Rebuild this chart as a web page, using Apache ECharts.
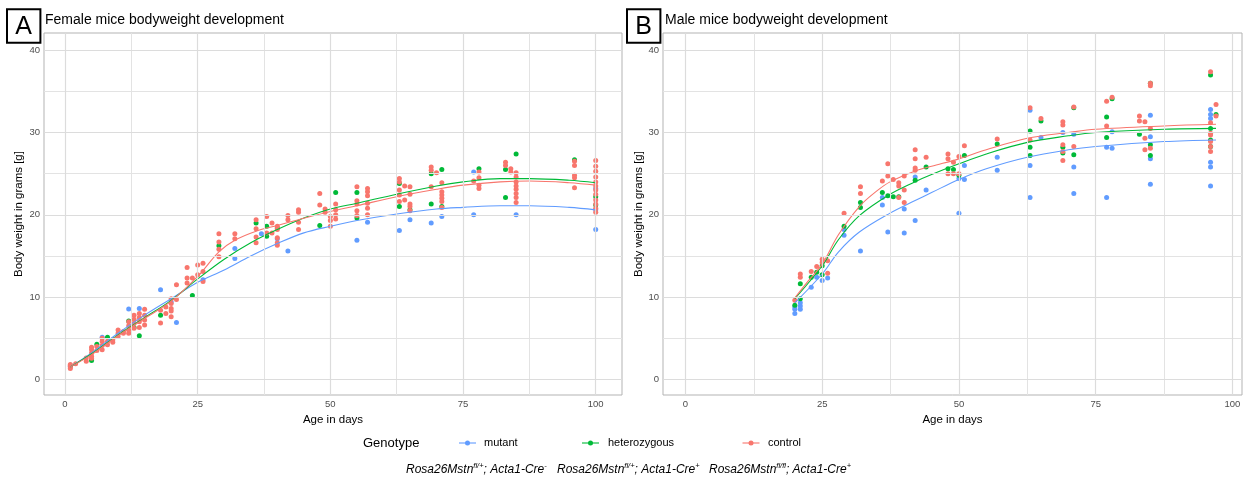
<!DOCTYPE html>
<html>
<head>
<meta charset="utf-8">
<script src="https://cdn.jsdelivr.net/npm/echarts@6/dist/echarts.min.js"></script>
<style>
  html, body { margin: 0; padding: 0; background: #ffffff; }
  #chart { width: 1246px; height: 477px; }
</style>
</head>
<body>
<div id="chart"></div>
<script>
// Genotype groups, colours and their allele annotations
const genotypes = ['mutant', 'heterozygous', 'control'];
const genotypeColors = ['#619CFF', '#00BA38', '#F8766D'];
const alleleLabels = [
  ['fl/+', '-'],
  ['fl/+', '+'],
  ['fl/fl', '+']
];

// Axis ticks
const xTicks = [0, 25, 50, 75, 100];
const xMinorTicks = [12.5, 37.5, 62.5, 87.5];
const yTicks = [0, 10, 20, 30, 40];
const yMinorTicks = [5, 15, 25, 35];

// Female body weights: [day, [weights in g]]
const femaleMutant = [
  [1, [1.6]], [7, [5.1]], [12, [8.55]], [14, [8.6]], [18, [10.9]], [20, [9.4]], [21, [6.9]],
  [26, [12.1]], [32, [14.7, 15.9]], [37, [17.7]], [40, [17.1]], [42, [15.6]], [55, [16.9]],
  [57, [19.1]], [63, [18.1]], [65, [19.4]], [69, [19.0]], [71, [19.8]], [77, [20.0, 25.2]],
  [85, [20.0]], [100, [18.2, 20.6, 23.2]]
];
const femaleHet = [
  [5, [2.27]], [6, [4.25]], [8, [5.1]], [12, [7.1]], [13, [6.3]], [14, [5.3]], [18, [7.8]],
  [24, [10.2]], [29, [16.25]], [36, [19.0]], [38, [17.4, 18.6]], [40, [18.4]], [48, [18.7]],
  [51, [22.7]], [55, [19.6, 22.7]], [63, [21.0, 23.8]], [65, [20.6]], [69, [21.3, 25.0]],
  [71, [21.0, 25.5]], [78, [25.6]], [83, [22.1, 25.5]], [85, [27.4]], [96, [26.7]],
  [100, [21.2, 22.2]]
];
const femaleControl = [
  [1, [1.3, 1.5, 1.7, 1.8]], [2, [1.9]], [4, [2.2, 2.6]], [5, [2.55, 2.8, 3.2, 3.6, 3.9]],
  [6, [3.5, 4.0]], [7, [3.6, 4.1, 4.6, 5.0]], [8, [4.2, 4.6]], [9, [4.5, 4.8]],
  [10, [5.2, 5.6, 6.0]], [11, [5.6, 5.8]], [12, [5.6, 6.0, 6.5, 7.0]], [13, [6.2, 6.8, 7.3, 7.8]],
  [14, [6.3, 7.0, 7.5, 8.0]], [15, [6.6, 7.2, 7.8, 8.5]], [18, [6.85, 8.4]], [19, [8.0, 8.8]],
  [20, [7.6, 8.3, 8.6, 9.2, 9.8]], [21, [9.7, 11.5]], [23, [11.7, 12.3, 13.6]], [24, [12.3]],
  [25, [12.7, 13.9]], [26, [11.9, 13.1, 14.1]], [29, [14.9, 15.8, 16.7, 17.7]], [32, [17.1, 17.7]],
  [36, [16.6, 17.3, 18.3, 19.4]], [38, [17.8, 19.8]], [39, [17.8, 19.0]],
  [40, [16.3, 16.6, 17.2, 18.2, 18.6]], [42, [19.4, 19.9]], [44, [18.2, 19.1, 20.3, 20.6]],
  [48, [21.2, 22.6]], [49, [20.3, 20.7]], [50, [18.6, 19.3, 19.8]], [51, [19.5, 20.0, 20.6, 21.3]],
  [55, [19.9, 20.5, 21.3, 21.7, 23.4]], [57, [20.0, 20.8, 21.4, 22.3, 22.8, 23.2]],
  [63, [21.6, 22.4, 23.0, 24.0, 24.4]], [64, [21.8, 23.5]], [65, [20.5, 21.0, 21.3, 22.5, 23.4]],
  [69, [23.4, 25.4, 25.8]], [70, [25.1]], [71, [20.9, 21.6, 22.0, 22.4, 22.8, 23.9]], [77, [24.1]],
  [78, [23.2, 23.6, 24.5, 25.2]], [83, [26.0, 26.4]], [84, [25.2, 25.6]],
  [85, [21.5, 22.1, 22.6, 23.1, 23.5, 24.0, 24.6, 25.1]], [96, [23.3, 24.5, 24.8, 26.0, 26.5]],
  [100, [20.3, 20.8, 21.3, 21.8, 22.5, 23.0, 23.5, 24.0, 24.6, 25.3, 25.9, 26.6]]
];

// Male body weights: [day, [weights in g]]
const maleMutant = [
  [20, [8.0, 8.5, 8.8]], [21, [8.5, 8.9, 9.3]], [23, [11.2]], [24, [12.4]], [25, [12.0]],
  [26, [12.3]], [29, [17.5, 18.2]], [32, [15.6]], [36, [21.2, 22.1]], [37, [17.9]],
  [40, [17.8, 20.7]], [42, [19.3, 24.6]], [44, [23.0]], [50, [20.2, 24.4]], [51, [24.3, 26.0]],
  [57, [25.4, 27.0]], [63, [22.1, 26.0, 32.7]], [65, [29.4]], [69, [30.0]], [71, [22.6, 25.8, 29.8]],
  [77, [22.1, 28.2]], [78, [28.1, 30.1]], [85, [23.7, 26.8, 29.5, 32.1]],
  [96, [23.5, 25.8, 26.4, 31.7, 32.2, 32.8]]
];
const maleHet = [
  [20, [9.0]], [21, [9.8, 11.6]], [23, [12.4]], [24, [13.0]], [25, [12.7, 13.8]], [29, [18.6]],
  [32, [20.9, 21.5]], [36, [22.7]], [37, [22.3]], [38, [22.2]], [39, [22.2]], [42, [24.2]],
  [44, [25.8]], [48, [25.6]], [49, [25.5]], [50, [24.8]], [51, [27.2]], [57, [28.6]],
  [63, [27.2, 28.2, 30.2]], [65, [31.4]], [69, [27.5, 28.2]], [71, [27.3, 33.0]], [77, [29.4, 31.9]],
  [78, [34.1]], [83, [29.8]], [85, [27.2, 28.5, 36.0]], [96, [28.3, 29.1, 30.5, 37.0]], [97, [32.2]]
];
const maleControl = [
  [20, [9.6]], [21, [12.4, 12.8]], [23, [13.1]], [24, [13.7]], [25, [14.2, 14.6]], [26, [12.9, 14.4]],
  [29, [20.2]], [32, [22.6, 23.4]], [36, [24.1]], [37, [24.7, 26.2]], [38, [24.3]],
  [39, [22.1, 23.5, 23.9]], [40, [21.5, 23.0, 24.7]], [42, [25.4, 25.7, 26.8, 27.9]], [44, [27.0]],
  [48, [25.0, 26.8, 27.4]], [49, [25.0, 26.4]], [50, [25.0, 27.1]], [51, [28.4]], [57, [29.2]],
  [63, [29.1, 33.0]], [65, [31.7]], [69, [26.6, 27.7, 28.5, 30.9, 31.3]], [71, [28.3, 33.1]],
  [77, [30.8, 33.8]], [78, [34.3]], [83, [31.4, 32.0]], [84, [27.9, 29.3, 31.3]],
  [85, [28.1, 30.5, 35.7, 36.0]], [96, [27.7, 28.3, 28.9, 29.7, 29.9, 31.2, 37.4]], [97, [32.0, 33.4]]
];

// Smoothed growth curves: [day, weight]
const femaleMutantFit = [
  [1, 1.5], [5, 3.2], [10, 5.6], [15, 7.8], [20, 9.8], [25, 11.8], [30, 13.3], [35, 15.0],
  [40, 16.5], [45, 17.8], [50, 18.6], [55, 19.3], [62.5, 20.1], [70, 20.7], [75, 20.9],
  [82, 21.1], [87.5, 21.1], [95, 20.9], [100, 20.6]
];
const femaleHetFit = [
  [1, 1.5], [5, 3.1], [10, 5.4], [15, 7.5], [20, 9.6], [25, 12.2], [30, 14.6], [35, 16.6],
  [40, 18.2], [45, 19.6], [50, 20.7], [55, 21.4], [62.5, 22.5], [70, 23.5], [75, 24.0],
  [82, 24.4], [87.5, 24.4], [95, 24.2], [100, 23.9]
];
const femaleControlFit = [
  [1, 1.5], [5, 3.0], [10, 5.3], [15, 7.4], [20, 9.5], [25, 12.5], [29, 15.5], [32, 16.9],
  [36, 18.0], [40, 18.7], [44, 19.4], [50, 20.4], [55, 21.1], [62.5, 22.2], [70, 23.1],
  [75, 23.6], [82, 24.0], [87.5, 24.1], [95, 23.9], [100, 23.6]
];
const maleMutantFit = [
  [20, 9.3], [25, 12.8], [28, 15.5], [31.8, 17.9], [37.4, 20.2], [41.9, 21.7], [45, 22.7],
  [50, 24.3], [55, 25.6], [62.5, 27.0], [70, 27.9], [75, 28.3], [87.5, 28.9], [97, 29.1]
];
const maleHetFit = [
  [20, 9.8], [25, 13.8], [28, 17.0], [31.8, 19.9], [37.4, 22.5], [41.9, 24.0], [45, 24.9],
  [50, 26.2], [55, 27.4], [62.5, 28.8], [70, 29.6], [75, 30.0], [87.5, 30.4], [97, 30.5]
];
const maleControlFit = [
  [20, 9.9], [22.5, 12.0], [25, 14.0], [28, 17.6], [31.8, 21.0], [35, 22.9], [37.4, 24.0],
  [41.9, 25.3], [45, 25.9], [50, 26.8], [55, 27.9], [62.5, 29.3], [70, 30.0], [75, 30.4],
  [87.5, 30.8], [97, 31.0]
];

const panels = [
  {
    tag: 'A', title: 'Female mice bodyweight development',
    points: [femaleMutant, femaleHet, femaleControl],
    fits: [femaleMutantFit, femaleHetFit, femaleControlFit],
    xMin: -3.96, xMax: 104.95
  },
  {
    tag: 'B', title: 'Male mice bodyweight development',
    points: [maleMutant, maleHet, maleControl],
    fits: [maleMutantFit, maleHetFit, maleControlFit],
    xMin: -4.1, xMax: 101.75
  }
];

const FONT = '"Liberation Sans", Arial, Helvetica, sans-serif';
const gridBoxes = [
  { left: 44, top: 33, width: 578, height: 362 },
  { left: 663, top: 33, width: 579, height: 362 }
];
const yNameGaps = [19, 17];

function flatten(groups) {
  const out = [];
  groups.forEach(([day, ws]) => ws.forEach(w => out.push([day, w])));
  return out;
}

const grids = [], xAxes = [], yAxes = [], series = [];

panels.forEach((p, i) => {
  grids.push(Object.assign({
    show: true, borderColor: '#B3B3B3', borderWidth: 1, backgroundColor: '#ffffff',
    containLabel: false
  }, gridBoxes[i]));

  xAxes.push({
    gridIndex: i, type: 'value', min: p.xMin, max: p.xMax,
    axisLine: { show: false },
    axisTick: { show: true, customValues: xTicks, length: 2.5, lineStyle: { color: '#B3B3B3', width: 1 } },
    axisLabel: { customValues: xTicks, color: '#4D4D4D', fontSize: 9.5, fontFamily: FONT, margin: 4 },
    splitLine: { show: false },
    name: 'Age in days', nameLocation: 'middle', nameGap: 16,
    nameTextStyle: { color: '#000000', fontSize: 11.5, fontFamily: FONT }
  });

  yAxes.push({
    gridIndex: i, type: 'value', min: -1.91, max: 42.1,
    axisLine: { show: false },
    axisTick: { show: true, customValues: yTicks, length: 2.5, lineStyle: { color: '#B3B3B3', width: 1 } },
    axisLabel: { customValues: yTicks, color: '#4D4D4D', fontSize: 9.5, fontFamily: FONT, margin: 4 },
    splitLine: { show: false },
    name: 'Body weight in grams [g]', nameLocation: 'middle', nameGap: yNameGaps[i],
    nameTextStyle: { color: '#000000', fontSize: 11.5, fontFamily: FONT }
  });

  // panel grid lines, drawn through the axis scales
  const major = { color: '#DCDCDC', width: 1.2, type: 'solid' };
  const minor = { color: '#E3E3E3', width: 1, type: 'solid' };
  const gridLines = []
    .concat(xMinorTicks.map(v => ({ xAxis: v, lineStyle: minor })))
    .concat(yMinorTicks.map(v => ({ yAxis: v, lineStyle: minor })))
    .concat(xTicks.map(v => ({ xAxis: v, lineStyle: major })))
    .concat(yTicks.map(v => ({ yAxis: v, lineStyle: major })));
  series.push({
    type: 'line', xAxisIndex: i, yAxisIndex: i, data: [], z: 1, silent: true,
    markLine: {
      silent: true, symbol: ['none', 'none'], label: { show: false }, animation: false,
      emphasis: { disabled: true }, data: gridLines
    }
  });

  genotypes.forEach((g, k) => {
    series.push({
      name: g, type: 'scatter', xAxisIndex: i, yAxisIndex: i,
      data: flatten(p.points[k]), symbolSize: 5, z: 3,
      itemStyle: { color: genotypeColors[k], opacity: 1 }
    });
  });
  genotypes.forEach((g, k) => {
    series.push({
      name: g + ' fit', type: 'line', xAxisIndex: i, yAxisIndex: i,
      data: p.fits[k], smooth: 0.35, showSymbol: false, symbol: 'none', z: 4,
      lineStyle: { color: genotypeColors[k], width: 1.1 }
    });
  });
});

// Panel tags and titles
const tagBoxes = [{ x: 7, y: 9.3 }, { x: 627, y: 9.3 }];
const titleX = [45, 665];
const graphics = [];
panels.forEach((p, i) => {
  graphics.push({
    type: 'rect', z: 100,
    shape: { x: tagBoxes[i].x, y: tagBoxes[i].y, width: 33.4, height: 33.4 },
    style: { fill: '#ffffff', stroke: '#000000', lineWidth: 2 }
  });
  graphics.push({
    type: 'text', z: 101, x: tagBoxes[i].x + 16.7, y: tagBoxes[i].y + 17.5,
    style: { text: p.tag, fontSize: 25, fontFamily: FONT, fill: '#000000', align: 'center', verticalAlign: 'middle' }
  });
  graphics.push({
    type: 'text', z: 101, x: titleX[i], y: 20.5,
    style: { text: p.title, fontSize: 14, fontFamily: FONT, fill: '#000000', align: 'left', verticalAlign: 'middle' }
  });
});

// Legend
const legendY = 443;
const keyCenters = [467.5, 590.5, 751];
const labelX = [484, 608, 768];
const alleleX = [406, 557, 709];
graphics.push({
  type: 'text', x: 363, y: legendY,
  style: { text: 'Genotype', fontSize: 13, fontFamily: FONT, fill: '#000000', align: 'left', verticalAlign: 'middle' }
});
genotypes.forEach((g, k) => {
  graphics.push({
    type: 'line', shape: { x1: keyCenters[k] - 8.5, y1: legendY, x2: keyCenters[k] + 8.5, y2: legendY },
    style: { stroke: genotypeColors[k], lineWidth: 1.1 }
  });
  graphics.push({
    type: 'circle', shape: { cx: keyCenters[k], cy: legendY, r: 2.5 },
    style: { fill: genotypeColors[k] }
  });
  graphics.push({
    type: 'text', x: labelX[k], y: legendY,
    style: { text: g, fontSize: 11, fontFamily: FONT, fill: '#000000', align: 'left', verticalAlign: 'middle' }
  });
  graphics.push({
    type: 'text', x: alleleX[k], y: 469,
    style: {
      text: '{b|Rosa26Mstn}{s|' + alleleLabels[k][0] + '}{b|; Acta1-Cre}{s|' + alleleLabels[k][1] + '}',
      verticalAlign: 'middle', align: 'left',
      rich: {
        b: { fontSize: 12, fontStyle: 'italic', fontFamily: FONT, fill: '#000000', verticalAlign: 'bottom', lineHeight: 14 },
        s: { fontSize: 7.5, fontStyle: 'italic', fontFamily: FONT, fill: '#000000', verticalAlign: 'top', lineHeight: 14 }
      }
    }
  });
});

const chart = echarts.init(document.getElementById('chart'), null, { renderer: 'canvas' });
chart.setOption({
  animation: false,
  backgroundColor: '#ffffff',
  textStyle: { fontFamily: FONT },
  grid: grids,
  xAxis: xAxes,
  yAxis: yAxes,
  series: series,
  graphic: { elements: graphics }
});
</script>
</body>
</html>
